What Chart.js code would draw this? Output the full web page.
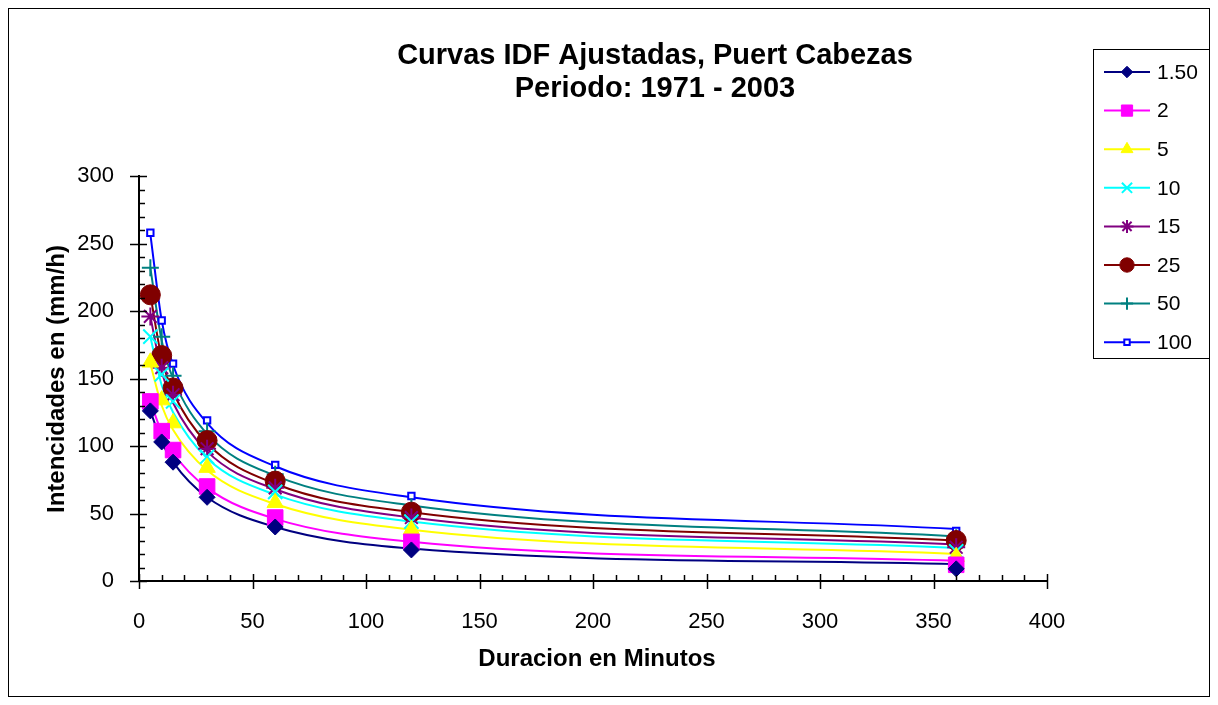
<!DOCTYPE html>
<html>
<head>
<meta charset="utf-8">
<script src="https://cdn.jsdelivr.net/npm/chart.js@4.4.1/dist/chart.umd.min.js"></script>
<style>
  body { margin: 0; background: #fff; }
  #wrap { width: 1218px; height: 705px; }
</style>
</head>
<body>
<div id="wrap"><canvas id="idf" width="1218" height="705"></canvas></div>
<script>
// duraciones (min)
const durations = [5, 10, 15, 30, 60, 120, 360];
const periods = ['1.50', '2', '5', '10', '15', '25', '50', '100'];

// intensidades observadas (marcadores)
const obs150 = [126, 103, 88, 62, 40, 23, 9];
const obs2   = [133, 111, 97, 70, 47, 29, 12];
const obs5   = [162, 134, 117, 84, 58, 38, 18];
const obs10  = [181, 153, 133, 92, 66, 44, 22];
const obs15  = [196, 158, 138, 98, 69, 47, 25];
const obs25  = [212, 167, 143, 104, 74, 51, 30];
const obs50  = [232, 181, 152, 111, 79, 55, 32];
const obs100 = [258, 193, 161, 119, 86, 63, 37];

// curvas ajustadas (lineas)
const fit150 = [126, 103, 88, 62, 40, 24, 12.5];
const fit2   = [133, 110, 95, 69, 46, 29, 15];
const fit5   = [161, 130, 112, 82, 57, 38, 20];
const fit10  = [181, 145, 125, 91, 64, 44, 24.5];
const fit15  = [196, 155, 132, 96, 68, 47, 27];
const fit25  = [212, 165, 140, 102, 72, 51, 30];
const fit50  = [232, 178, 150, 109, 78, 56, 33];
const fit100 = [257, 193, 160, 117, 85, 62, 38.5];

const xTicks = [0, 50, 100, 150, 200, 250, 300, 350, 400];
const yTicks = [0, 50, 100, 150, 200, 250, 300];

const obsSets = [obs150, obs2, obs5, obs10, obs15, obs25, obs50, obs100];
const fitSets = [fit150, fit2, fit5, fit10, fit15, fit25, fit50, fit100];

const colors = ['#000080', '#FF00FF', '#FFFF00', '#00FFFF', '#800080', '#800000', '#008080', '#0000FF'];
const markers = [
    { pointStyle: 'rectRot', radius: 8, fill: true, bw: 1 },
    { pointStyle: 'rect', radius: 11, fill: true, bw: 1 },
    { pointStyle: 'triangle', radius: 9.5, fill: true, bw: 1 },
    { pointStyle: 'crossRot', radius: 10, fill: false, bw: 2 },
    { pointStyle: 'star', radius: 9, fill: false, bw: 2 },
    { pointStyle: 'circle', radius: 10, fill: true, bw: 1 },
    { pointStyle: 'cross', radius: 8.5, fill: false, bw: 2 },
    { pointStyle: 'rect', radius: 4.5, fill: false, bw: 2 }
];

const toXY = (ys) => durations.map((d, i) => ({ x: d, y: ys[i] }));

const datasets = [];
fitSets.forEach((ys, i) => {
    datasets.push({
        label: periods[i] + ' ajuste',
        data: toXY(ys),
        type: 'line',
        showLine: true,
        borderColor: colors[i],
        borderWidth: 2,
        pointRadius: 0,
        fill: false,
        cubicInterpolationMode: 'monotone',
        order: 10
    });
});
obsSets.forEach((ys, i) => {
    const m = markers[i];
    datasets.push({
        label: periods[i],
        data: toXY(ys),
        showLine: false,
        pointStyle: m.pointStyle,
        pointRadius: m.radius,
        pointHoverRadius: m.radius,
        pointBorderWidth: m.bw,
        borderColor: colors[i],
        backgroundColor: m.fill ? colors[i] : '#ffffff',
        order: 1
    });
});

const FONT = '"Liberation Sans", Arial, sans-serif';

// marco, titulo, leyenda y marcas de los ejes
const decorPlugin = {
    id: 'decor',
    afterDraw(chart) {
        const ctx = chart.ctx;
        const xs = chart.scales.x;
        const ys = chart.scales.y;
        const area = chart.chartArea;
        ctx.save();

        // marco exterior
        ctx.strokeStyle = '#000';
        ctx.lineWidth = 1;
        ctx.strokeRect(8.5, 8.5, 1201, 688);

        // titulo
        ctx.fillStyle = '#000';
        ctx.textAlign = 'center';
        ctx.textBaseline = 'middle';
        ctx.font = 'bold 29px ' + FONT;
        ctx.fillText('Curvas IDF Ajustadas, Puert Cabezas', 655, 56);
        ctx.fillText('Periodo: 1971 - 2003', 655, 89);

        // titulos de ejes
        ctx.font = 'bold 24px ' + FONT;
        ctx.fillText('Duracion en Minutos', 597, 659);
        ctx.save();
        ctx.translate(57, 379);
        ctx.rotate(-Math.PI / 2);
        ctx.fillText('Intencidades en (mm/h)', 0, 0);
        ctx.restore();

        // marcas
        ctx.lineWidth = 1.5;
        ctx.strokeStyle = '#000';
        for (let v = 0; v <= 400; v += 10) {
            const px = Math.round(xs.getPixelForValue(v)) + 0.5;
            const major = v % 50 === 0;
            ctx.beginPath();
            ctx.moveTo(px, area.bottom - (major ? 7 : 6));
            ctx.lineTo(px, area.bottom + (major ? 8 : 0));
            ctx.stroke();
        }
        for (let v = 0; v <= 300; v += 10) {
            const py = Math.round(ys.getPixelForValue(v)) + 0.5;
            const major = v % 50 === 0;
            ctx.beginPath();
            ctx.moveTo(area.left - (major ? 9 : 0), py);
            ctx.lineTo(area.left + (major ? 8 : 6), py);
            ctx.stroke();
        }

        // leyenda
        ctx.lineWidth = 1;
        ctx.strokeRect(1093.5, 49.5, 116, 309);
        ctx.font = '21px ' + FONT;
        ctx.textAlign = 'left';
        periods.forEach((p, i) => {
            const y = 72 + i * 38.6;
            ctx.strokeStyle = colors[i];
            ctx.lineWidth = 2;
            ctx.beginPath();
            ctx.moveTo(1104, y);
            ctx.lineTo(1150, y);
            ctx.stroke();
            const m = markers[i];
            ctx.fillStyle = m.fill ? colors[i] : '#ffffff';
            ctx.lineWidth = m.bw;
            const r = m.radius * (i === 7 ? 0.85 : 0.72);
            Chart.helpers.drawPoint(ctx, { pointStyle: m.pointStyle, radius: r, rotation: 0, borderWidth: m.bw }, 1127, y);
            ctx.fillStyle = '#000';
            ctx.fillText(p, 1157, y + 1);
        });

        ctx.restore();
    }
};

new Chart(document.getElementById('idf').getContext('2d'), {
    type: 'scatter',
    data: { datasets: datasets },
    options: {
        responsive: false,
        animation: false,
        events: [],
        layout: { padding: { left: 0, top: 176, right: 171, bottom: 0 } },
        plugins: {
            legend: { display: false },
            title: { display: false },
            tooltip: { enabled: false }
        },
        scales: {
            x: {
                type: 'linear',
                min: 0,
                max: 400,
                afterFit: (s) => { s.height = 124; },
                afterBuildTicks: (s) => { s.ticks = xTicks.map(v => ({ value: v })); },
                grid: { display: false, drawTicks: false },
                border: { display: true, color: '#000', width: 2 },
                ticks: { color: '#000', padding: 28, maxRotation: 0, font: { family: FONT, size: 22 } }
            },
            y: {
                type: 'linear',
                min: 0,
                max: 300,
                afterFit: (s) => { s.width = 139; },
                afterBuildTicks: (s) => { s.ticks = yTicks.map(v => ({ value: v })); },
                grid: { display: false, drawTicks: false },
                border: { display: true, color: '#000', width: 2 },
                ticks: { color: '#000', padding: 25, font: { family: FONT, size: 22 } }
            }
        }
    },
    plugins: [decorPlugin]
});
</script>
</body>
</html>
